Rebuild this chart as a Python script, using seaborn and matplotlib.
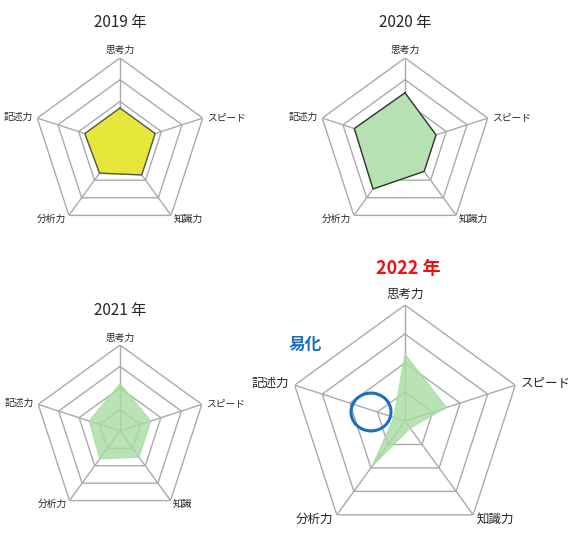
import numpy as np
import matplotlib
matplotlib.use("Agg")
import matplotlib.pyplot as plt
import seaborn as sns

sns.set_style("white")
plt.rcParams['font.family'] = ['Noto Sans CJK JP', 'DejaVu Sans']

labels_a = ["思考力", "スピード", "知識力", "分析力", "記述力"]
labels_b = ["思考力", "スピード", "知識", "分析力", "記述力"]
v2019 = [1.7, 1.7, 1.7, 1.6, 1.7]
v2020 = [2.4, 1.5, 1.5, 2.5, 2.45]
v2021 = [2.2, 1.5, 1.5, 1.6, 1.5]
v2022 = [2.3, 1.5, 0.3, 1.9, 0.4]

W, H = 573, 542
fig = plt.figure(figsize=(W/100, H/100), dpi=100)
theta = np.linspace(0, 2*np.pi, 6)[:-1]

def radar(cx, cy, R, vals, labels, face, edge, fs, alpha=1.0, lw=1.0):
    ax = fig.add_axes([(cx-R)/W, (H-cy-R)/H, 2*R/W, 2*R/H], projection="polar")
    ax.set_theta_offset(np.pi/2); ax.set_theta_direction(-1)
    ax.set_ylim(0, 4); ax.axis("off")
    tc = np.append(theta, theta[0])
    for r in range(1, 5):
        ax.plot(tc, [r]*6, color="#aaaaaa", lw=1.0)
    for t in theta:
        ax.plot([t, t], [0, 4], color="#aaaaaa", lw=1.0)
    vc = np.append(vals, vals[0])
    ax.fill(tc, vc, color=face, alpha=alpha, zorder=3)
    if edge:
        ax.plot(tc, vc, color=edge, lw=lw, zorder=4)
    for t, l in zip(theta, labels):
        ha = "center"
        if np.sin(t) > 0.3: ha = "left"
        elif np.sin(t) < -0.3: ha = "right"
        rr = 4.35 if abs(np.cos(t)) > 0.9 else 4.2
        ax.text(t, rr, l, ha=ha, va="center", fontsize=fs)
    return ax

radar(120, 145, 87, v2019, labels_a, "#e6e63a", "#555555", 7)
radar(405, 145, 87, v2020, labels_a, "#b5e2b0", "#333333", 7)
radar(120, 431, 86, v2021, labels_b, "#a8dca3", None, 7, alpha=0.8)
ax4 = radar(405, 421, 116, v2022, labels_a, "#a8dca3", None, 9, alpha=0.8)

fig.text(120/W, 1-22/H, "2019 年", ha="center", va="center", fontsize=11)
fig.text(405/W, 1-22/H, "2020 年", ha="center", va="center", fontsize=11)
fig.text(120/W, 1-310/H, "2021 年", ha="center", va="center", fontsize=11)
fig.text(408/W, 1-268/H, "2022 年", ha="center", va="center", fontsize=13,
         color="#ee1111", fontweight="bold")
fig.text(305/W, 1-345/H, "易化", ha="center", va="center", fontsize=12,
         color="#1a6fc0", fontweight="bold")
circ = plt.Circle((371/W, 1-412/H), 20/W, transform=fig.transFigure,
                  fill=False, edgecolor="#1a6fc0", lw=2.2)
fig.patches.append(circ)
fig.savefig("out.png", dpi=100, facecolor="white")
